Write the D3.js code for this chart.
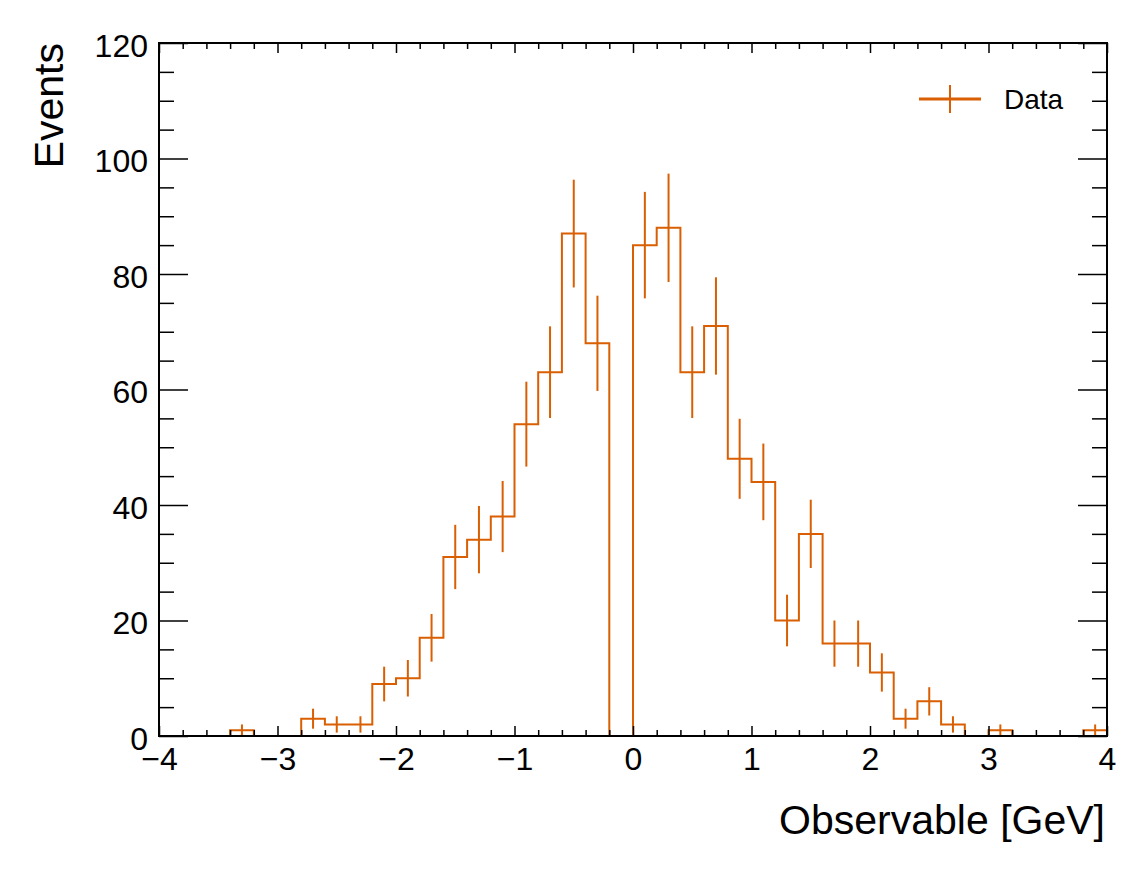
<!DOCTYPE html>
<html>
<head>
<meta charset="utf-8">
<script src="https://cdn.jsdelivr.net/npm/d3@7"></script>
<style>
  body { margin: 0; background: #fff; }
  svg { display: block; font-family: "Liberation Sans", Arial, Helvetica, sans-serif; }
</style>
</head>
<body>
<svg id="chart"></svg>
<script>
"use strict";

// histogram binning: 40 bins of 0.2 from -4 to 4
const binLow = -4;
const binHigh = 4;
const nBins = 40;

// counts per bin
const counts = [
  0, 0, 0, 1, 0, 0, 3, 2, 2, 9,
  10, 17, 31, 34, 38, 54, 63, 87, 68, 0,
  85, 88, 63, 71, 48, 44, 20, 35, 16, 16,
  11, 3, 6, 2, 0, 1, 0, 0, 0, 1
];

const xMajorTicks = [-4, -3, -2, -1, 0, 1, 2, 3, 4];
const yMajorTicks = [0, 20, 40, 60, 80, 100, 120];

const seriesName = "Data";
const xTitle = "Observable [GeV]";
const yTitle = "Events";
const lineColor = "#d95f02";

const width = 1147, height = 871;
const margin = {top: 43, right: 40, bottom: 135, left: 159};

const svg = d3.select("#chart")
  .attr("width", width)
  .attr("height", height);

const x = d3.scaleLinear().domain([binLow, binHigh]).range([margin.left, width - margin.right]);
const y = d3.scaleLinear().domain([0, 120]).range([height - margin.bottom, margin.top]);

const binWidth = (binHigh - binLow) / nBins;
const edges = d3.range(nBins + 1).map(i => binLow + i * binWidth);

// step outline of the histogram
let pts = [[edges[0], 0]];
counts.forEach((c, i) => pts.push([edges[i], c]));
pts.push([edges[nBins], counts[nBins - 1]]);
pts.push([edges[nBins], 0]);

const step = d3.line()
  .x(d => x(d[0]))
  .y(d => y(d[1]))
  .curve(d3.curveStepAfter);

svg.append("path")
  .attr("d", step(pts))
  .attr("fill", "none")
  .attr("stroke", lineColor)
  .attr("stroke-width", 2);

// poisson error bars at bin centres
const filled = counts.map((c, i) => ({c: c, xc: edges[i] + binWidth / 2})).filter(d => d.c > 0);
svg.append("g")
  .selectAll("line")
  .data(filled)
  .join("line")
    .attr("x1", d => x(d.xc))
    .attr("x2", d => x(d.xc))
    .attr("y1", d => y(d.c - Math.sqrt(d.c)))
    .attr("y2", d => y(d.c + Math.sqrt(d.c)))
    .attr("stroke", lineColor)
    .attr("stroke-width", 2);

// axes, ticks pointing inwards on all four sides
const xMinor = d3.range(binLow, binHigh + 1e-9, 0.2).filter(v => Math.abs(v - Math.round(v)) > 1e-6);
const yMinor = d3.range(0, 121, 5).filter(v => v % 20 !== 0);
const fmt = d3.format("d");

function styleAxis(g) {
  g.select(".domain").remove();
  g.selectAll(".tick line").attr("stroke", "#000").attr("stroke-width", 1.5);
  g.selectAll(".tick text")
    .attr("fill", "#000")
    .style("font-size", "32px");
}

const yBottom = height - margin.bottom;
const xRight = width - margin.right;

svg.append("g")
  .attr("transform", "translate(0," + yBottom + ")")
  .call(d3.axisBottom(x).tickValues(xMajorTicks).tickFormat(fmt).tickSize(-10).tickPadding(11))
  .call(styleAxis);
svg.append("g")
  .attr("transform", "translate(0," + yBottom + ")")
  .call(d3.axisBottom(x).tickValues(xMinor).tickFormat("").tickSize(-6))
  .call(styleAxis);
svg.append("g")
  .attr("transform", "translate(0," + margin.top + ")")
  .call(d3.axisTop(x).tickValues(xMajorTicks).tickFormat("").tickSize(-10))
  .call(styleAxis);
svg.append("g")
  .attr("transform", "translate(0," + margin.top + ")")
  .call(d3.axisTop(x).tickValues(xMinor).tickFormat("").tickSize(-6))
  .call(styleAxis);

const yAxisG = svg.append("g")
  .attr("transform", "translate(" + margin.left + ",0)")
  .call(d3.axisLeft(y).tickValues(yMajorTicks).tickFormat(fmt).tickSize(-29).tickPadding(11))
  .call(styleAxis);
yAxisG.selectAll(".tick text").attr("dy", "0.41em");
svg.append("g")
  .attr("transform", "translate(" + margin.left + ",0)")
  .call(d3.axisLeft(y).tickValues(yMinor).tickFormat("").tickSize(-15))
  .call(styleAxis);
svg.append("g")
  .attr("transform", "translate(" + xRight + ",0)")
  .call(d3.axisRight(y).tickValues(yMajorTicks).tickFormat("").tickSize(-29))
  .call(styleAxis);
svg.append("g")
  .attr("transform", "translate(" + xRight + ",0)")
  .call(d3.axisRight(y).tickValues(yMinor).tickFormat("").tickSize(-15))
  .call(styleAxis);

// frame
svg.append("rect")
  .attr("x", margin.left)
  .attr("y", margin.top)
  .attr("width", xRight - margin.left)
  .attr("height", yBottom - margin.top)
  .attr("fill", "none")
  .attr("stroke", "#000")
  .attr("stroke-width", 2);

// axis titles
svg.append("text")
  .attr("x", xRight - 2)
  .attr("y", 834)
  .attr("text-anchor", "end")
  .style("font-size", "41px")
  .text(xTitle);

svg.append("text")
  .attr("transform", "translate(63," + margin.top + ") rotate(-90)")
  .attr("text-anchor", "end")
  .style("font-size", "41px")
  .text(yTitle);

// legend
const leg = svg.append("g").attr("transform", "translate(919,99)");
leg.append("line")
  .attr("x1", 0).attr("x2", 62)
  .attr("y1", 0).attr("y2", 0)
  .attr("stroke", lineColor)
  .attr("stroke-width", 3);
leg.append("line")
  .attr("x1", 31).attr("x2", 31)
  .attr("y1", -14).attr("y2", 14)
  .attr("stroke", lineColor)
  .attr("stroke-width", 2);
leg.append("text")
  .attr("x", 85)
  .attr("y", 10)
  .style("font-size", "28px")
  .text(seriesName);
</script>
</body>
</html>
